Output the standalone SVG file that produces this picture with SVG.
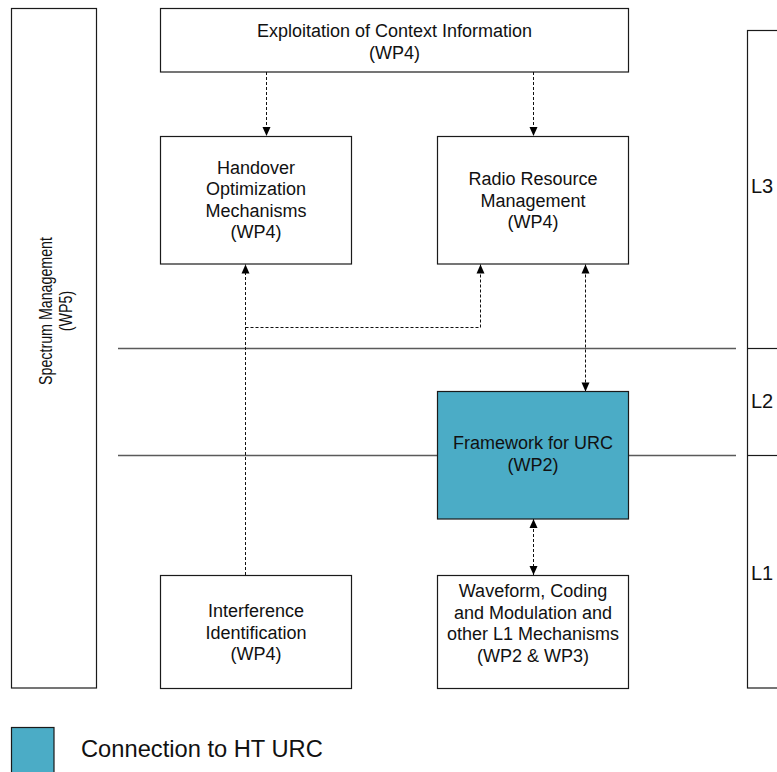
<svg xmlns="http://www.w3.org/2000/svg" width="777" height="772" viewBox="0 0 777 772">
<style>
  .box{fill:#fff;stroke:#1a1a1a;stroke-width:1.2}
  .urc{fill:#4BACC6;stroke:#1a1a1a;stroke-width:1.2}
  .t{font-family:"Liberation Sans",Arial,sans-serif;font-size:18px;fill:#111;text-anchor:middle}
  .sp{font-family:"Liberation Sans",Arial,sans-serif;font-size:18.5px;fill:#111;text-anchor:middle}
  .lay{font-family:"Liberation Sans",Arial,sans-serif;font-size:20px;fill:#111}
  .leg{font-family:"Liberation Sans",Arial,sans-serif;font-size:23.7px;fill:#111}
  .sep{stroke:#5a5a5a;stroke-width:1.3}
  .dash{fill:none;stroke:#111;stroke-width:1;stroke-dasharray:3,2}
</style>
<defs>
  <marker id="ah" markerUnits="userSpaceOnUse" markerWidth="11" markerHeight="11" viewBox="0 0 11 11" refX="10" refY="5.5" orient="auto-start-reverse">
    <path d="M1,1.5 L10,5.5 L1,9.5 Z" fill="#000"/>
  </marker>
</defs>
<rect width="777" height="772" fill="#fff"/>

<g id="layer-lines">
  <line class="sep" x1="118" y1="348.5" x2="736" y2="348.5"/>
  <line class="sep" x1="118" y1="455.5" x2="736" y2="455.5"/>
</g>

<g id="layers">
  <rect class="box" x="747.5" y="30.5" width="40" height="657.5"/>
  <line x1="747.5" y1="348.5" x2="777" y2="348.5" stroke="#1a1a1a" stroke-width="1.2"/>
  <line x1="747.5" y1="455.5" x2="777" y2="455.5" stroke="#1a1a1a" stroke-width="1.2"/>
  <text class="lay" x="751" y="193">L3</text>
  <text class="lay" x="751" y="408">L2</text>
  <text class="lay" x="751" y="580">L1</text>
</g>

<g id="spectrum">
  <rect class="box" x="11.5" y="8.5" width="85" height="679.5"/>
  <text class="sp" transform="translate(52,311) rotate(-90) scale(0.77,1)"><tspan x="0" y="0">Spectrum Management</tspan><tspan x="0" y="20">(WP5)</tspan></text>
</g>

<g id="context">
  <rect class="box" x="160.5" y="8.5" width="468" height="63.5"/>
  <text class="t"><tspan x="394.5" y="37">Exploitation of Context Information</tspan><tspan x="394.5" y="58.5">(WP4)</tspan></text>
</g>

<g id="handover">
  <rect class="box" x="160.5" y="136.5" width="191" height="127.5"/>
  <text class="t"><tspan x="256" y="173.5">Handover</tspan><tspan x="256" y="195">Optimization</tspan><tspan x="256" y="216.5">Mechanisms</tspan><tspan x="256" y="238">(WP4)</tspan></text>
</g>

<g id="rrm">
  <rect class="box" x="437.5" y="136.5" width="191" height="127.5"/>
  <text class="t"><tspan x="533" y="185">Radio Resource</tspan><tspan x="533" y="206.5">Management</tspan><tspan x="533" y="228">(WP4)</tspan></text>
</g>

<g id="connectors">
  <line class="dash" x1="266.5" y1="72" x2="266.5" y2="136" marker-end="url(#ah)"/>
  <line class="dash" x1="533.5" y1="72" x2="533.5" y2="136" marker-end="url(#ah)"/>
  <line class="dash" x1="245.5" y1="575" x2="245.5" y2="264.5" marker-end="url(#ah)"/>
  <polyline class="dash" points="245.5,327.5 480.5,327.5 480.5,264.5" marker-end="url(#ah)"/>
  <line class="dash" x1="585.5" y1="264.5" x2="585.5" y2="391.5" marker-start="url(#ah)" marker-end="url(#ah)"/>
  <line class="dash" x1="533.5" y1="519" x2="533.5" y2="575" marker-start="url(#ah)" marker-end="url(#ah)"/>
</g>

<g id="framework">
  <rect class="urc" x="437.5" y="391.5" width="191" height="127.5"/>
  <text class="t"><tspan x="533" y="449">Framework for URC</tspan><tspan x="533" y="470.5">(WP2)</tspan></text>
</g>

<g id="interference">
  <rect class="box" x="160.5" y="575.5" width="191" height="113"/>
  <text class="t"><tspan x="256" y="617">Interference</tspan><tspan x="256" y="638.5">Identification</tspan><tspan x="256" y="660">(WP4)</tspan></text>
</g>

<g id="waveform">
  <rect class="box" x="437.5" y="575.5" width="191" height="113"/>
  <text class="t"><tspan x="533" y="597">Waveform, Coding</tspan><tspan x="533" y="618.5">and Modulation and</tspan><tspan x="533" y="640">other L1 Mechanisms</tspan><tspan x="533" y="661.5">(WP2 &amp; WP3)</tspan></text>
</g>

<g id="legend">
  <rect class="urc" x="11.5" y="727.5" width="42.5" height="50"/>
  <text class="leg" x="81" y="757">Connection to HT URC</text>
</g>
</svg>
